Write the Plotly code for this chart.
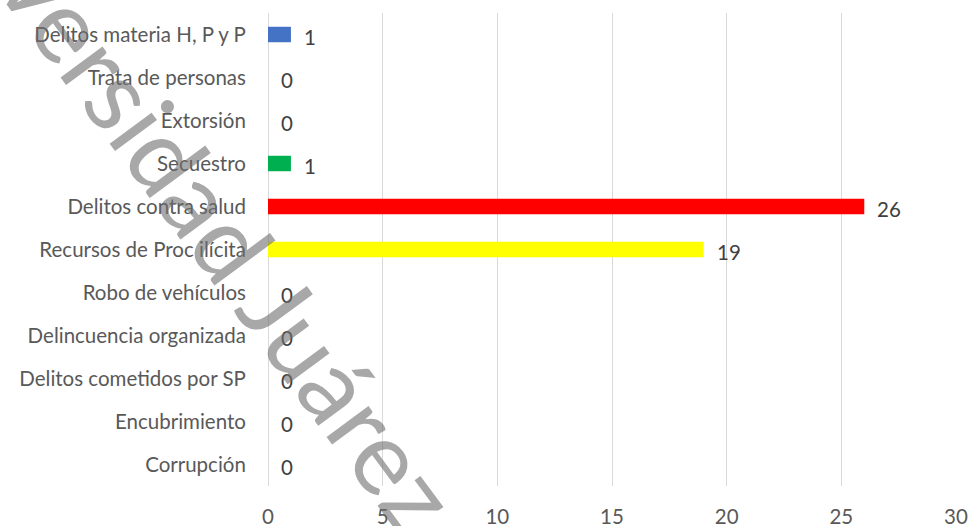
import plotly.graph_objects as go

categories = [
    "Delitos materia H, P y P",
    "Trata de personas",
    "Extorsión",
    "Secuestro",
    "Delitos contra salud",
    "Recursos de Proc ilícita",
    "Robo de vehículos",
    "Delincuencia organizada",
    "Delitos cometidos por SP",
    "Encubrimiento",
    "Corrupción",
]
values = [1, 0, 0, 1, 26, 19, 0, 0, 0, 0, 0]
bar_colors = ["#4472C4", "#FFFFFF", "#FFFFFF", "#00B050", "#FF0000", "#FFFF00",
              "#FFFFFF", "#FFFFFF", "#FFFFFF", "#FFFFFF", "#FFFFFF"]
x_ticks = [0, 5, 10, 15, 20, 25, 30]
watermark = "Universidad Juárez"

FONT = "Lato, Calibri, 'Open Sans', sans-serif"
FS = 20.5

fig = go.Figure()
fig.add_trace(go.Bar(
    x=values,
    y=categories,
    orientation="h",
    marker=dict(color=bar_colors, line=dict(width=0)),
    width=0.36,
    hoverinfo="x+y",
))

for cat, v in zip(categories, values):
    fig.add_annotation(
        x=v, y=cat, text=str(v), showarrow=False,
        xanchor="left", xshift=11, yshift=-2,
        font=dict(family=FONT, size=FS, color="#404040"),
    )

fig.add_annotation(
    xref="paper", yref="paper", x=-0.1221, y=0.6533,
    xanchor="center", yanchor="middle",
    text=watermark, showarrow=False, textangle=53.5,
    font=dict(family=FONT, size=103, color="rgba(110,110,110,0.6)"),
)

fig.update_layout(
    width=968, height=526,
    margin=dict(l=268, r=12, t=13, b=40),
    paper_bgcolor="white",
    plot_bgcolor="white",
    showlegend=False,
    font=dict(family=FONT, size=FS, color="#595959"),
    xaxis=dict(
        range=[0, 30],
        tickvals=x_ticks,
        showgrid=True, gridcolor="#d9d9d9", gridwidth=1,
        zeroline=True, zerolinecolor="#d9d9d9", zerolinewidth=1,
        showline=False,
        ticks="outside", ticklen=12, tickcolor="rgba(0,0,0,0)",
        tickfont=dict(family=FONT, size=FS, color="#595959"),
        automargin=False,
        fixedrange=True,
    ),
    yaxis=dict(
        autorange="reversed",
        showgrid=False, zeroline=False, showline=False,
        ticks="outside", ticklen=17, tickcolor="rgba(0,0,0,0)",
        tickfont=dict(family=FONT, size=FS, color="#595959"),
        automargin=False,
        fixedrange=True,
    ),
)

fig.write_html("out.html", config={"displayModeBar": False},
               post_script="document.body.style.margin='0';")
